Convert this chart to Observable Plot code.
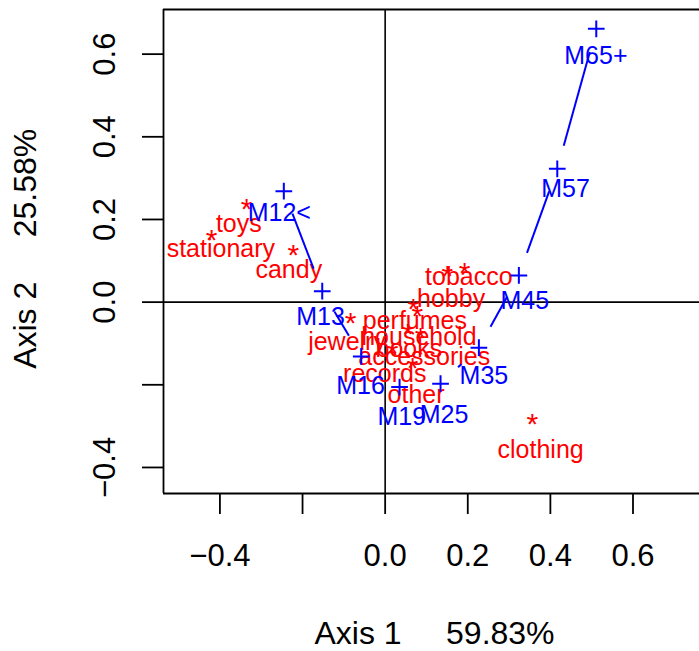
<!DOCTYPE html>
<html>
<head>
<meta charset="utf-8">
<script src="https://cdn.jsdelivr.net/npm/d3@7"></script>
<script src="https://cdn.jsdelivr.net/npm/@observablehq/plot@0.6"></script>
<style>
html, body { margin: 0; padding: 0; background: #fff; }
svg text { white-space: pre; }
</style>
</head>
<body>
<div id="chart"></div>
<script>
// ---- data ----
const categories = ["toys","stationary","candy","tobacco","hobby","perfumes","household","jewelry","books","accessories","records","other","clothing"];
const catX = [-0.3356,-0.4203,-0.2225,0.1923,0.1504,0.0680,0.0777,-0.0838,0.0550,0.0857,0.0179,0.0663,0.3562];
const catY = [0.2237,0.1487,0.1134,0.0706,0.0626,-0.0181,-0.0341,-0.0503,-0.0769,-0.0866,-0.1229,-0.1591,-0.2963];
const catLabelX = [-0.3542,-0.3978,-0.2332,0.2027,0.1596,0.0719,0.0816,-0.0923,0.0574,0.0947,-0.0010,0.0748,0.3763];
const catLabelY = [0.1898,0.1274,0.0771,0.0602,0.0085,-0.0455,-0.0837,-0.0963,-0.1137,-0.1318,-0.1748,-0.2239,-0.3570];

const ages = ["M12<","M13","M16","M19","M25","M35","M45","M57","M65+"];
const ageX = [-0.2453,-0.1523,-0.0579,0.0349,0.1341,0.2269,0.3237,0.4167,0.5111];
const ageY = [0.2684,0.0266,-0.1313,-0.2056,-0.1973,-0.1103,0.0646,0.3226,0.6612];
const ageLabelX = [-0.2562,-0.1564,-0.0596,0.0402,0.1426,0.2390,0.3380,0.4368,0.5102];
const ageLabelY = [0.2162,-0.0365,-0.2022,-0.2784,-0.2740,-0.1797,0.0029,0.2745,0.5961];

const xTickValues = [-0.4,-0.2,0,0.2,0.4,0.6];
const xTickLabels = ["\u22120.4","","0.0","0.2","0.4","0.6"];
const yTickValues = [-0.4,-0.2,0,0.2,0.4,0.6];
const yTickLabels = ["\u22120.4","","0.0","0.2","0.4","0.6"];

const xTitle = "Axis 1     59.83%";
const yTitle = "Axis 2     25.58%";

// ---- layout ----
const W = 699, H = 651, mL = 163, mR = 0, mT = 9, mB = 158;
const xDomain = [-0.5366, 0.761];
const yDomain = [-0.463, 0.708];
const pxPerUnit = (W - mL - mR) / (xDomain[1] - xDomain[0]);
const gap = 24 / pxPerUnit;

const segs = d3.pairs(d3.range(ages.length)).map(([i, j]) => {
  const dx = ageX[j] - ageX[i], dy = ageY[j] - ageY[i];
  const len = Math.hypot(dx, dy);
  if (len <= 2 * gap) return null;
  const ux = dx / len, uy = dy / len;
  return {x1: ageX[i] + ux * gap, y1: ageY[i] + uy * gap, x2: ageX[j] - ux * gap, y2: ageY[j] - uy * gap};
}).filter(Boolean);

const RED = "#ff0000", BLUE = "#0000ff";
const ci = d3.range(categories.length);
const ai = d3.range(ages.length);
const xi = d3.range(xTickValues.length);
const yi = d3.range(yTickValues.length);

const plot = Plot.plot({
  width: W, height: H,
  marginLeft: mL, marginRight: mR, marginTop: mT, marginBottom: mB,
  x: {domain: xDomain, axis: null},
  y: {domain: yDomain, axis: null},
  style: {fontFamily: "'Liberation Sans', Arial, Helvetica, sans-serif", fontSize: "31px", background: "#fff", color: "#000", overflow: "visible"},
  marks: [
    // zero lines
    Plot.ruleX([0], {stroke: "#000", strokeWidth: 1.6}),
    Plot.ruleY([0], {stroke: "#000", strokeWidth: 1.6}),
    // box (right side falls outside the picture)
    Plot.ruleY([yDomain[0], yDomain[1]], {stroke: "#000", strokeWidth: 1.8}),
    Plot.ruleX([xDomain[0]], {stroke: "#000", strokeWidth: 1.8}),
    // ticks
    Plot.tickX(xi, {x: i => xTickValues[i], stroke: "#000", strokeWidth: 1.8, insetTop: H - mT - mB, insetBottom: -21}),
    Plot.tickY(yi, {y: i => yTickValues[i], stroke: "#000", strokeWidth: 1.8, insetLeft: -21, insetRight: W - mL - mR}),
    // tick labels
    Plot.text(xi, {x: i => xTickValues[i], text: i => xTickLabels[i], frameAnchor: "bottom", dy: 63, fontSize: 31, lineAnchor: "middle", fill: "#000"}),
    Plot.text(yi, {y: i => yTickValues[i], text: i => yTickLabels[i], frameAnchor: "left", dx: -58, rotate: -90, fontSize: 31, lineAnchor: "middle", textAnchor: "middle", fill: "#000"}),
    // axis titles
    Plot.text([xTitle], {text: d => d, frameAnchor: "bottom", dx: 3, dy: 140, fontSize: 32, lineAnchor: "middle", fill: "#000"}),
    Plot.text([yTitle], {text: d => d, frameAnchor: "left", dx: -138, dy: -2.7, rotate: -90, fontSize: 32, lineAnchor: "middle", textAnchor: "middle", fill: "#000"}),
    // categories (red)
    Plot.text(ci, {x: i => catX[i], y: i => catY[i], text: () => "*", fill: RED, fontSize: 30}),
    Plot.text(ci, {x: i => catLabelX[i], y: i => catLabelY[i], text: i => categories[i], fill: RED, fontSize: 25}),
    // ages (blue)
    Plot.link(segs, {x1: "x1", y1: "y1", x2: "x2", y2: "y2", stroke: BLUE, strokeWidth: 2}),
    Plot.dot(ai, {x: i => ageX[i], y: i => ageY[i], symbol: "plus", r: 5.44, stroke: BLUE, strokeWidth: 2}),
    Plot.text(ai, {x: i => ageLabelX[i], y: i => ageLabelY[i], text: i => ages[i], fill: BLUE, fontSize: 25})
  ]
});
document.getElementById("chart").appendChild(plot);
</script>
</body>
</html>
